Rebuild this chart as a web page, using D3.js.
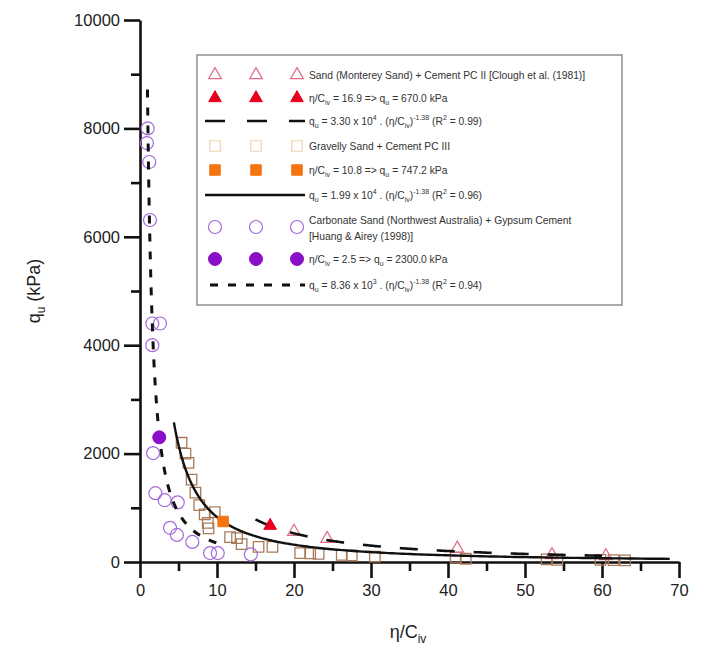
<!DOCTYPE html>
<html>
<head>
<meta charset="utf-8">
<script src="https://cdn.jsdelivr.net/npm/d3@7"></script>
<style>
  body { margin: 0; background: #fff; }
  text { font-family: "Liberation Sans", Arial, sans-serif; }
</style>
</head>
<body>
<div id="chart"></div>
<script>
// data: [eta/Civ, qu (kPa)]
const cloughOpen = [[20.0, 560], [24.3, 430], [41.2, 250], [53.5, 130], [60.5, 110]];
const cloughRef = [[16.9, 670.0]];
const gravelOpen = [[5.4, 2200], [5.9, 2000], [6.3, 1830], [6.7, 1520], [7.2, 1280], [7.7, 1050],
  [8.4, 880], [8.8, 720], [9.7, 920], [8.9, 620], [11.7, 460], [12.6, 440], [13.2, 330],
  [15.4, 280], [17.2, 280], [20.8, 165], [22.1, 160], [23.2, 150], [26.2, 130], [27.5, 120],
  [30.5, 100], [41.0, 80], [42.3, 60], [52.8, 50], [54.2, 40], [59.8, 40], [61.5, 35], [63.0, 30]];
const gravelRef = [[10.8, 747.2]];
const huangOpen = [[1.0, 8000], [0.9, 7730], [1.2, 7380], [1.3, 6310], [1.6, 4400], [2.6, 4400],
  [1.6, 4000], [1.7, 2010], [2.0, 1270], [3.2, 1140], [4.9, 1100], [3.9, 630], [4.8, 500],
  [6.8, 370], [9.1, 165], [10.1, 165], [14.4, 140]];
const huangRef = [[2.5, 2300.0]];

// power-law fits from the legend: qu = a * (eta/Civ)^b, drawn over [x0, x1]
const fitNames = ["clough", "gravel", "huang"];
const fitCoef = [3.30e4, 1.99e4, 8.36e3];
const fitExp = [-1.38, -1.38, -1.38];
const fitFrom = [15.0, 4.4, 0.97];
const fitTo = [60.0, 68.8, 11.0];

const xTicks = [0, 10, 20, 30, 40, 50, 60, 70];
const yTicks = [0, 2000, 4000, 6000, 8000, 10000];

const W = 728, H = 648;
const svg = d3.select("#chart").append("svg").attr("width", W).attr("height", H);

const x = d3.scaleLinear().domain([0, 70]).range([140, 679]);
const y = d3.scaleLinear().domain([0, 10000]).range([562, 20]);

// axes
const axisX = svg.append("g").attr("transform", "translate(0,562)")
  .call(d3.axisBottom(x).tickValues(xTicks).tickFormat(d3.format("d")).tickSize(16).tickSizeOuter(0).tickPadding(6));
const axisXMinor = svg.append("g").attr("transform", "translate(0,562)")
  .call(d3.axisBottom(x).tickValues(d3.range(5, 70, 10)).tickSize(9).tickFormat(""));
const axisY = svg.append("g").attr("transform", "translate(140,0)")
  .call(d3.axisLeft(y).tickValues(yTicks).tickFormat(d3.format("d")).tickSize(16).tickSizeOuter(0).tickPadding(4));
const axisYMinor = svg.append("g").attr("transform", "translate(140,0)")
  .call(d3.axisLeft(y).tickValues(d3.range(1000, 10000, 2000)).tickSize(9).tickFormat(""));
[axisX, axisXMinor, axisY, axisYMinor].forEach(g => {
  g.selectAll("path, line").attr("stroke", "#111").attr("stroke-width", 2.6);
  g.selectAll("text").attr("font-size", 16.5).attr("fill", "#222")
    .attr("font-family", '"Liberation Sans", Arial, sans-serif');
});
axisXMinor.select("path").remove();
axisYMinor.select("path").remove();

// axis titles
const yt = svg.append("text").attr("transform", "translate(40,291) rotate(-90)")
  .attr("text-anchor", "middle").attr("font-size", 18).attr("fill", "#222");
yt.append("tspan").text("q");
yt.append("tspan").attr("font-size", 12).attr("dy", 5).text("u");
yt.append("tspan").attr("dy", -5).text(" (kPa)");
const xt = svg.append("text").attr("x", 408).attr("y", 638)
  .attr("text-anchor", "middle").attr("font-size", 18).attr("fill", "#222");
xt.append("tspan").text("η/C");
xt.append("tspan").attr("font-size", 12).attr("dy", 5).text("iv");

// marker styles
const triSym = d3.symbol().type(d3.symbolTriangle).size(70);
const sqSym = d3.symbol().type(d3.symbolSquare).size(110);
const cirR = 6.5;
const st = {
  triOpen: { fill: "none", stroke: "#e26a84", sw: 1.2 },
  triFill: { fill: "#e8001c", stroke: "#e8001c", sw: 1 },
  sqOpen: { fill: "none", stroke: "#a87a58", sw: 1.3 },
  sqFill: { fill: "#f57410", stroke: "#f57410", sw: 1 },
  cirOpen: { fill: "none", stroke: "#a46ad8", sw: 1.2 },
  cirFill: { fill: "#8a0fc8", stroke: "#8a0fc8", sw: 1 }
};

function drawSym(g, data, sym, s) {
  g.selectAll(null).data(data).enter().append("path")
    .attr("transform", d => `translate(${x(d[0])},${y(d[1])})`)
    .attr("d", sym).attr("fill", s.fill).attr("stroke", s.stroke).attr("stroke-width", s.sw);
}
function drawCir(g, data, s) {
  g.selectAll(null).data(data).enter().append("circle")
    .attr("cx", d => x(d[0])).attr("cy", d => y(d[1])).attr("r", cirR)
    .attr("fill", s.fill).attr("stroke", s.stroke).attr("stroke-width", s.sw);
}

const plot = svg.append("g");
drawSym(plot, gravelOpen, sqSym, st.sqOpen);
drawCir(plot, huangOpen, st.cirOpen);
drawSym(plot, cloughOpen, triSym, st.triOpen);

// fitted curves
const line = d3.line().x(d => x(d[0])).y(d => y(d[1]));
const dashes = ["18,19", null, "8,10"];
const widths = [2.6, 2.4, 3];
fitNames.forEach((n, i) => {
  const pts = d3.range(0, 201).map(k => {
    const t = fitFrom[i] * Math.pow(fitTo[i] / fitFrom[i], k / 200);
    return [t, fitCoef[i] * Math.pow(t, fitExp[i])];
  });
  plot.append("path").datum(pts).attr("d", line).attr("fill", "none")
    .attr("stroke", "#111").attr("stroke-width", widths[i])
    .attr("stroke-dasharray", dashes[i]);
});

drawSym(plot, cloughRef, triSym, st.triFill);
drawSym(plot, gravelRef, sqSym, st.sqFill);
drawCir(plot, huangRef, st.cirFill);

// legend
const lg = svg.append("g");
lg.append("rect").attr("x", 197).attr("y", 55).attr("width", 425).attr("height", 250)
  .attr("fill", "#fff").attr("stroke", "#888").attr("stroke-width", 1.4);

const mx = [215, 256, 297];
const tx = 309;
const fs = 10.3;

function legText(yy, parts) {
  const t = lg.append("text").attr("x", tx).attr("y", yy + 4).attr("font-size", fs).attr("fill", "#333");
  parts.forEach(p => {
    const s = t.append("tspan").text(p[0]);
    if (p[1] === "sub") s.attr("font-size", 7).attr("dy", 3);
    if (p[1] === "sup") s.attr("font-size", 7).attr("dy", -5);
    if (p[1] === "back") s.attr("dy", -3);
    if (p[1] === "down") s.attr("dy", 5);
  });
}
function legSym(yy, sym, s) {
  mx.forEach(m => lg.append("path").attr("transform", `translate(${m},${yy})`)
    .attr("d", sym).attr("fill", s.fill).attr("stroke", s.stroke).attr("stroke-width", s.sw));
}
function legCir(yy, s) {
  mx.forEach(m => lg.append("circle").attr("cx", m).attr("cy", yy).attr("r", cirR)
    .attr("fill", s.fill).attr("stroke", s.stroke).attr("stroke-width", s.sw));
}
function legLine(yy, dash, w, x0) {
  lg.append("line").attr("x1", x0).attr("x2", 305).attr("y1", yy).attr("y2", yy)
    .attr("stroke", "#111").attr("stroke-width", w).attr("stroke-dasharray", dash);
}

legSym(75, triSym, st.triOpen);
legText(75, [["Sand (Monterey Sand) + Cement PC II [Clough et al. (1981)]"]]);
legSym(98, triSym, st.triFill);
legText(98, [["η/C"], ["iv", "sub"], [" = 16.9 => q", "back"], ["u", "sub"], [" = 670.0 kPa", "back"]]);
legLine(121, "20,22", 2.6, 205);
legText(121, [["q"], ["u", "sub"], [" = 3.30 x 10", "back"], ["4", "sup"], [" . (η/C", "down"], ["iv", "sub"], [")", "back"], ["-1.38", "sup"], [" (R", "down"], ["2", "sup"], [" = 0.99)", "down"]]);
legSym(146, sqSym, { fill: "none", stroke: "#ecd2ae", sw: 1.2 });
legText(146, [["Gravelly Sand + Cement PC III"]]);
legSym(170, sqSym, st.sqFill);
legText(170, [["η/C"], ["iv", "sub"], [" = 10.8 => q", "back"], ["u", "sub"], [" = 747.2 kPa", "back"]]);
legLine(195, null, 2.4, 205);
legText(195, [["q"], ["u", "sub"], [" = 1.99 x 10", "back"], ["4", "sup"], [" . (η/C", "down"], ["iv", "sub"], [")", "back"], ["-1.38", "sup"], [" (R", "down"], ["2", "sup"], [" = 0.96)", "down"]]);
legCir(227, st.cirOpen);
legText(220, [["Carbonate Sand (Northwest Australia) + Gypsum Cement"]]);
legText(236, [["[Huang & Airey (1998)]"]]);
legCir(259, st.cirFill);
legText(259, [["η/C"], ["iv", "sub"], [" = 2.5 => q", "back"], ["u", "sub"], [" = 2300.0 kPa", "back"]]);
legLine(285, "8,10", 3, 210);
legText(285, [["q"], ["u", "sub"], [" = 8.36 x 10", "back"], ["3", "sup"], [" . (η/C", "down"], ["iv", "sub"], [")", "back"], ["-1.38", "sup"], [" (R", "down"], ["2", "sup"], [" = 0.94)", "down"]]);
</script>
</body>
</html>
